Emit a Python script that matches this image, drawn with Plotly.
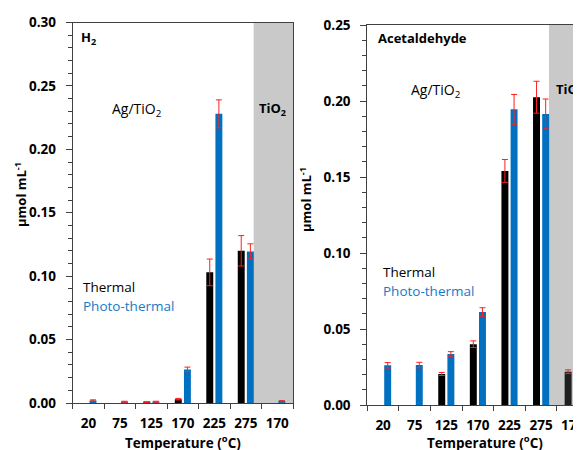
import plotly.graph_objects as go

# ---------------- data ----------------
temps = ["20", "75", "125", "170", "225", "275", "170"]

# None = no bar shown for that condition
h2_thermal = [None, None, 0.0005, 0.003, 0.103, 0.120, None]
h2_thermal_err = [None, None, 0.0003, 0.0006, 0.0105, 0.012, None]
h2_photo = [0.002, 0.001, 0.001, 0.0265, 0.228, 0.1195, 0.0015]
h2_photo_err = [0.0005, 0.0004, 0.0004, 0.0018, 0.011, 0.006, 0.0004]

ace_thermal = [None, None, 0.0204, 0.040, 0.154, 0.2025, 0.0219]
ace_thermal_err = [None, None, 0.001, 0.0022, 0.0075, 0.0105, 0.0012]
ace_photo = [0.0261, 0.0263, 0.0336, 0.0612, 0.1945, 0.1915, 0.0518]
ace_photo_err = [0.0018, 0.0018, 0.0015, 0.0028, 0.0098, 0.0098, 0.0025]

# ---------------- style ----------------
W, H = 581, 450
OFF = 8  # page body margin offset of the figure in the browser
FONT = "Open Sans"
BLUE = "#0070C0"
BLUE_TXT = "#1479C9"
BLACK = "#000000"
RED = "#FF2020"
AXC = "#404040"
TIO2_START = 5.25

def px(x):
    return (x - OFF) / W

def py(y):
    return 1 - (y - OFF) / H

xpos = list(range(len(temps)))

fig = go.Figure()

def add_pair(th, th_err, ph, ph_err, xa, ya):
    fig.add_trace(go.Bar(
        x=xpos, y=th, marker=dict(color=BLACK, line=dict(width=0)),
        error_y=dict(type="data", array=th_err, color=RED, thickness=1, width=3),
        xaxis=xa, yaxis=ya, offsetgroup="t", showlegend=False, name="Thermal"))
    fig.add_trace(go.Bar(
        x=xpos, y=ph, marker=dict(color=BLUE, line=dict(width=0)),
        error_y=dict(type="data", array=ph_err, color=RED, thickness=1, width=3),
        xaxis=xa, yaxis=ya, offsetgroup="p", showlegend=False, name="Photo-thermal"))

add_pair(h2_thermal, h2_thermal_err, h2_photo, h2_photo_err, "x", "y")
add_pair(ace_thermal, ace_thermal_err, ace_photo, ace_photo_err, "x2", "y2")

tickfont = dict(family=FONT, size=13.5, color="black", weight="bold")

def xaxis_cfg(domain, rng, anchor):
    return dict(
        domain=domain, range=rng, anchor=anchor, automargin=False,
        tickmode="array", tickvals=xpos, ticktext=temps,
        ticks="", tickfont=dict(family=FONT, size=13.5, color="black", weight="bold"),
        showgrid=False, zeroline=False,
        showline=True, linecolor=AXC, linewidth=1, mirror=True,
        ticklabelstandoff=8,
        minor=dict(tick0=0.5, dtick=1, ticks="outside", ticklen=5,
                   tickcolor=AXC, tickwidth=1, showgrid=False),
    )

def yaxis_cfg(domain, rng, anchor, mirror):
    return dict(
        domain=domain, range=rng, anchor=anchor, automargin=False,
        tickmode="linear", tick0=0, dtick=0.05, tickformat=".2f",
        ticks="outside", ticklen=6, tickcolor=AXC, tickwidth=1,
        tickfont=tickfont, showgrid=False, zeroline=False,
        showline=True, linecolor=AXC, linewidth=1, mirror=mirror,
        ticklabelstandoff=7,
        minor=dict(dtick=0.01, ticks="outside", ticklen=4,
                   tickcolor=AXC, tickwidth=1, showgrid=False),
    )

fig.update_layout(
    width=W, height=H,
    margin=dict(l=0, r=0, t=0, b=0, autoexpand=False),
    paper_bgcolor="white", plot_bgcolor="white",
    barmode="group", bargap=0.42, bargroupgap=0.24,
    showlegend=False,
    font=dict(family=FONT, color="black"),
    xaxis=xaxis_cfg([px(72.7), px(293)], [-0.5, 6.5], "y"),
    yaxis=yaxis_cfg([py(403), py(22.5)], [0, 0.30], "x", True),
    xaxis2=xaxis_cfg([px(367.3), px(588.5)], [-0.5, 6.5], "y2"),
    yaxis2=yaxis_cfg([py(405), py(25)], [0, 0.25], "x2", False),
)

# grey TiO2 regions
for xr, yr, ytop in (("x", "y", 0.30), ("x2", "y2", 0.25)):
    fig.add_shape(type="rect", xref=xr, yref=yr, x0=TIO2_START, x1=6.5,
                  y0=0, y1=ytop, fillcolor="rgba(90,90,90,0.33)",
                  line=dict(width=0), layer="above")

def ann(text, x, y, size=13.5, bold=False, color="black", xanchor="left", angle=0):
    fig.add_annotation(
        text=text, xref="paper", yref="paper", x=px(x), y=py(y),
        xanchor=xanchor, yanchor="middle", showarrow=False, textangle=angle,
        font=dict(family=FONT, size=size, color=color,
                  weight="bold" if bold else "normal"))

# left panel texts
ann("H<sub>2</sub>", 78.5, 38, size=13, bold=True)
ann("Ag/TiO<sub>2</sub>", 110, 109, size=14)
ann("TiO<sub>2</sub>", 256.5, 109, size=13, bold=True)
ann("Thermal", 81, 287)
ann("Photo-thermal", 81, 306, color=BLUE_TXT)
ann("μmol mL<sup>-1</sup>", 20, 195, size=13, bold=True, xanchor="center", angle=-90)
ann("Temperature (<sup>o</sup>C)", 182.5, 442, size=13.5, bold=True, xanchor="center")

# right panel texts
ann("Acetaldehyde", 376, 38, size=13, bold=True)
ann("Ag/TiO<sub>2</sub>", 409, 90, size=14)
ann("TiO<sub>2</sub>", 553.5, 90, size=13, bold=True)
ann("Thermal", 380.5, 272)
ann("Photo-thermal", 380.5, 291, color=BLUE_TXT)
ann("μmol mL<sup>-1</sup>", 305, 200, size=13, bold=True, xanchor="center", angle=-90)
ann("Temperature (<sup>o</sup>C)", 484.5, 442, size=13.5, bold=True, xanchor="center")

fig.write_html("out.html")
